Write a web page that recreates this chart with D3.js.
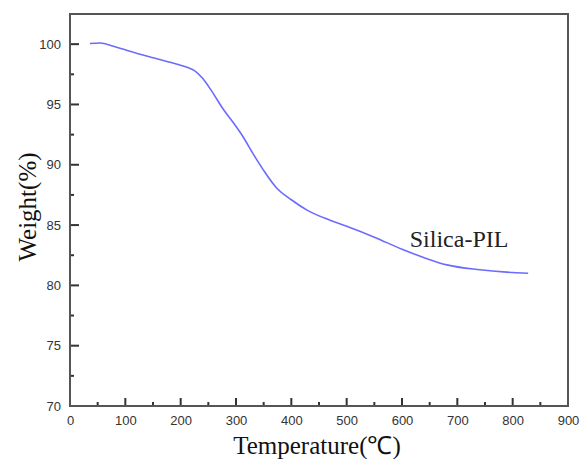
<!DOCTYPE html>
<html>
<head>
<meta charset="utf-8">
<script src="https://cdn.jsdelivr.net/npm/d3@7"></script>
<style>
  body { margin: 0; background: #fff; }
  svg text { font-family: "Liberation Sans", Arial, sans-serif; }
  .serif { font-family: "Liberation Serif", "Times New Roman", serif !important; }
</style>
</head>
<body>
<div id="chart"></div>
<script>
// TGA curve
const temperature = [36, 54, 80, 102, 140, 181, 210, 225, 240, 259, 277, 295, 313, 331, 349, 373, 400, 430, 470, 500, 550, 600, 640, 681, 741, 789, 828];
const weight = [100.05, 100.1, 99.8, 99.5, 99.0, 98.5, 98.1, 97.8, 97.15, 95.9, 94.6, 93.5, 92.3, 90.9, 89.6, 88.1, 87.1, 86.2, 85.4, 84.9, 84.0, 83.0, 82.3, 81.7, 81.3, 81.1, 81.0];
const xTicks = [0, 100, 200, 300, 400, 500, 600, 700, 800, 900];
const yTicks = [70, 75, 80, 85, 90, 95, 100];
const xMinor = [50, 150, 250, 350, 450, 550, 650, 750, 850];
const yMinor = [72.5, 77.5, 82.5, 87.5, 92.5, 97.5];
const seriesName = "Silica-PIL";

const width = 581, height = 459;
const margin = {left: 70, top: 14, right: 13, bottom: 53};
const w = width - margin.left - margin.right;
const h = height - margin.top - margin.bottom;

const svg = d3.select("#chart").append("svg")
    .attr("width", width)
    .attr("height", height);

const g = svg.append("g")
    .attr("transform", "translate(" + margin.left + "," + margin.top + ")");

const x = d3.scaleLinear().domain([0, 900]).range([0, w]);
const y = d3.scaleLinear().domain([70, 102.5]).range([h, 0]);

const xAxis = g.append("g")
    .attr("transform", "translate(0," + h + ")")
    .call(d3.axisBottom(x).tickValues(xTicks).tickSize(0).tickPadding(10));
xAxis.select(".domain").remove();

const yAxis = g.append("g")
    .call(d3.axisLeft(y).tickValues(yTicks).tickSize(0).tickPadding(9));
yAxis.select(".domain").remove();

svg.selectAll(".tick text").attr("font-size", 13).attr("fill", "#333");

// inward tick marks as thin rects
const marks = g.append("g").attr("fill", "#333");
marks.selectAll("rect.xmaj").data(xTicks).join("rect")
    .attr("class", "xmaj")
    .attr("x", d => x(d) - 1).attr("y", h - 8)
    .attr("width", 2).attr("height", 8);
marks.selectAll("rect.xmin").data(xMinor).join("rect")
    .attr("class", "xmin")
    .attr("x", d => x(d) - 1).attr("y", h - 4)
    .attr("width", 2).attr("height", 4);
marks.selectAll("rect.ymaj").data(yTicks).join("rect")
    .attr("class", "ymaj")
    .attr("x", 0).attr("y", d => y(d) - 1)
    .attr("width", 9).attr("height", 2);
marks.selectAll("rect.ymin").data(yMinor).join("rect")
    .attr("class", "ymin")
    .attr("x", 0).attr("y", d => y(d) - 1)
    .attr("width", 4).attr("height", 2);

// frame
g.append("rect")
    .attr("width", w)
    .attr("height", h)
    .attr("fill", "none")
    .attr("stroke", "#555")
    .attr("stroke-width", 2);

const line = d3.line()
    .x((d, i) => x(temperature[i]))
    .y(d => y(d))
    .curve(d3.curveMonotoneX);

g.append("path")
    .datum(weight)
    .attr("d", line)
    .attr("fill", "none")
    .attr("stroke", "#6b6bff")
    .attr("stroke-width", 1.6);

g.append("text")
    .attr("class", "serif")
    .attr("x", x(614))
    .attr("y", y(83.2))
    .attr("font-size", 24)
    .attr("fill", "#222")
    .text(seriesName);

svg.append("text")
    .attr("class", "serif")
    .attr("x", margin.left + w / 2 - 2)
    .attr("y", 454)
    .attr("text-anchor", "middle")
    .attr("font-size", 25)
    .attr("fill", "#111")
    .text("Temperature(℃)");

svg.append("text")
    .attr("class", "serif")
    .attr("transform", "translate(36," + 207 + ") rotate(-90)")
    .attr("text-anchor", "middle")
    .attr("font-size", 25)
    .attr("fill", "#111")
    .text("Weight(%)");
</script>
</body>
</html>
